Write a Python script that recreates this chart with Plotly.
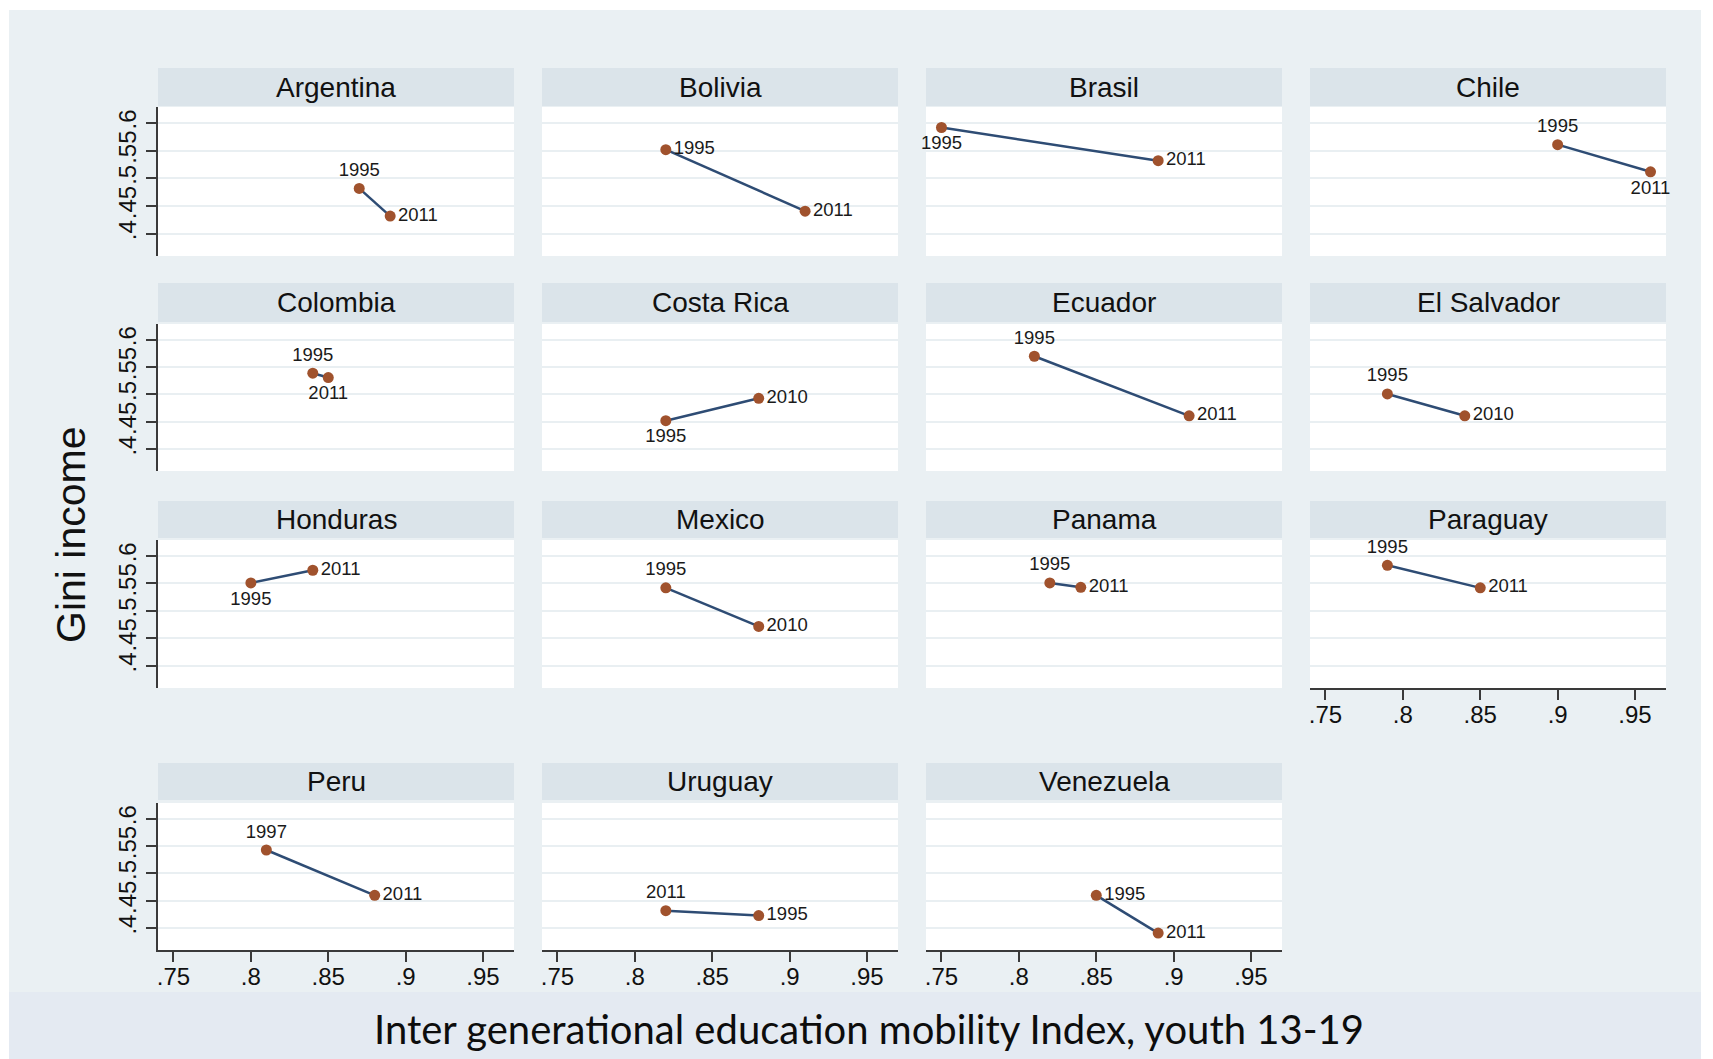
import plotly.graph_objects as go

# Small-multiple panels: Gini income vs. intergenerational education mobility
countries = ["Argentina", "Bolivia", "Brasil", "Chile",
             "Colombia", "Costa Rica", "Ecuador", "El Salvador",
             "Honduras", "Mexico", "Panama", "Paraguay",
             "Peru", "Uruguay", "Venezuela"]

# first survey year / last survey year
year_first = ["1995", "1995", "1995", "1995", "1995", "1995", "1995", "1995",
              "1995", "1995", "1995", "1995", "1997", "1995", "1995"]
year_last = ["2011", "2011", "2011", "2011", "2011", "2010", "2011", "2010",
             "2011", "2010", "2011", "2011", "2011", "2011", "2011"]

# mobility index (x) and Gini (y) for each year
mob_first = [0.87, 0.82, 0.75, 0.90, 0.84, 0.82, 0.81, 0.79,
             0.80, 0.82, 0.82, 0.79, 0.81, 0.88, 0.85]
mob_last = [0.89, 0.91, 0.89, 0.96, 0.85, 0.88, 0.91, 0.84,
            0.84, 0.88, 0.84, 0.85, 0.88, 0.82, 0.89]
gini_first = [0.482, 0.552, 0.592, 0.561, 0.539, 0.452, 0.570, 0.501,
              0.551, 0.542, 0.551, 0.583, 0.543, 0.423, 0.460]
gini_last = [0.432, 0.441, 0.532, 0.512, 0.531, 0.493, 0.461, 0.461,
             0.574, 0.472, 0.543, 0.542, 0.460, 0.432, 0.391]

x_ticks = [0.75, 0.8, 0.85, 0.9, 0.95]
x_ticktext = [".75", ".8", ".85", ".9", ".95"]
y_ticks = [0.4, 0.45, 0.5, 0.55, 0.6]
y_ticktext = [".4", ".45", ".5", ".55", ".6"]

# marker-label placement (clock position style)
lab_first = ["top center", "middle right", "bottom center", "top center",
             "top center", "bottom center", "top center", "top center",
             "bottom center", "top center", "top center", "top center",
             "top center", "middle right", "middle right"]
lab_last = ["middle right", "middle right", "middle right", "bottom center",
            "bottom center", "middle right", "middle right", "middle right",
            "middle right", "middle right", "middle right", "middle right",
            "middle right", "top center", "middle right"]

W, H = 1713, 1059
REGION = "#EAF0F3"
STRIP = "#DBE4EA"
GRID = "#E9EFF2"
AXIS = "#3A3A3A"
MARKER = "#A0522D"
LINE = "#2E4C74"
FONT = "Liberation Sans, Arial, Helvetica, sans-serif"

col_x0 = [158, 542, 926, 1310]
col_w = 356
row_plot = [(107, 256), (324, 471), (540, 688), (803, 950)]
row_head = [(68, 106), (283, 322), (501, 538), (763, 800)]

fig = go.Figure()
shapes = []
annotations = []
layout_axes = {}

# panels that carry the x axis
x_axis_panels = {11, 12, 13, 14}

for i, name in enumerate(countries):
    r, c = divmod(i, 4)
    n = i + 1
    xa = "x" if n == 1 else f"x{n}"
    ya = "y" if n == 1 else f"y{n}"
    x0 = col_x0[c]
    x1 = x0 + col_w
    py0, py1 = row_plot[r]
    hy0, hy1 = row_head[r]

    layout_axes["xaxis" if n == 1 else f"xaxis{n}"] = dict(
        domain=[x0 / W, x1 / W], range=[0.74, 0.97], anchor=ya,
        tickvals=x_ticks, ticktext=x_ticktext, showgrid=False, zeroline=False,
        showline=i in x_axis_panels, linecolor=AXIS, linewidth=2,
        ticks="outside" if i in x_axis_panels else "", ticklen=10, tickwidth=2,
        tickcolor=AXIS, showticklabels=i in x_axis_panels,
        ticklabelstandoff=-6,
        tickfont=dict(family=FONT, size=24, color="#111"),
    )
    layout_axes["yaxis" if n == 1 else f"yaxis{n}"] = dict(
        domain=[1 - py1 / H, 1 - py0 / H], range=[0.36, 0.629], anchor=xa,
        tickvals=y_ticks, ticktext=y_ticktext, showgrid=True, gridcolor=GRID,
        gridwidth=2, zeroline=False,
        showline=c == 0, linecolor=AXIS, linewidth=2,
        ticks="outside" if c == 0 else "", ticklen=10, tickwidth=2,
        tickcolor=AXIS, showticklabels=c == 0, tickangle=-90,
        tickfont=dict(family=FONT, size=24, color="#111"),
    )

    # header strip with country name
    shapes.append(dict(type="rect", xref="paper", yref="paper", layer="below",
                       x0=x0 / W, x1=x1 / W, y0=1 - hy1 / H, y1=1 - hy0 / H,
                       fillcolor=STRIP, line=dict(width=0)))
    annotations.append(dict(text=name, xref="paper", yref="paper",
                            x=(x0 + x1) / 2 / W, y=1 - (hy0 + hy1) / 2 / H,
                            xanchor="center", yanchor="middle", showarrow=False,
                            font=dict(family=FONT, size=28, color="#111")))

    fig.add_trace(go.Scatter(
        x=[mob_first[i], mob_last[i]], y=[gini_first[i], gini_last[i]],
        xaxis=xa, yaxis=ya, mode="lines+markers+text",
        text=[year_first[i], year_last[i]],
        textposition=[lab_first[i], lab_last[i]],
        textfont=dict(family=FONT, size=18.5, color="#1a1a1a"),
        line=dict(color=LINE, width=2.5),
        marker=dict(color=MARKER, size=11),
        showlegend=False, cliponaxis=False,
    ))

# white page edges and lower title band
shapes += [
    dict(type="rect", xref="paper", yref="paper", layer="below",
         x0=0, x1=1, y0=1 - 10 / H, y1=1, fillcolor="white", line=dict(width=0)),
    dict(type="rect", xref="paper", yref="paper", layer="below",
         x0=0, x1=9 / W, y0=0, y1=1, fillcolor="white", line=dict(width=0)),
    dict(type="rect", xref="paper", yref="paper", layer="below",
         x0=1701 / W, x1=1, y0=0, y1=1, fillcolor="white", line=dict(width=0)),
    dict(type="rect", xref="paper", yref="paper", layer="below",
         x0=9 / W, x1=1701 / W, y0=0, y1=1 - 992 / H,
         fillcolor="#E4EAF2", line=dict(width=0)),
]

annotations += [
    dict(text="Gini income", xref="paper", yref="paper", x=71 / W, y=1 - 535 / H,
         textangle=-90, showarrow=False, xanchor="center", yanchor="middle",
         font=dict(family=FONT, size=41, color="#111")),
    dict(text="Inter generational education mobility Index, youth 13-19",
         xref="paper", yref="paper", x=869 / W, y=1 - 1029 / H, showarrow=False,
         xanchor="center", yanchor="middle",
         font=dict(family="Lato, Open Sans, sans-serif", size=40, color="#0d0d0d")),
]

fig.update_layout(
    width=W, height=H, margin=dict(l=0, r=0, t=0, b=0), autosize=False,
    paper_bgcolor=REGION, plot_bgcolor="white",
    shapes=shapes, annotations=annotations, **layout_axes,
)

fig.write_html("out.html")
